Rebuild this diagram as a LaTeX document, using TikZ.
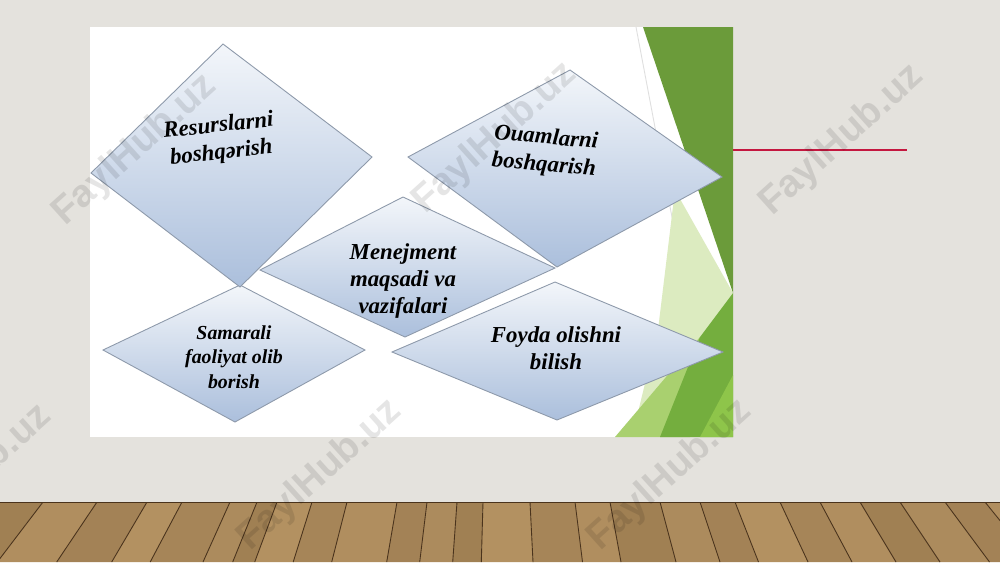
\documentclass[tikz,border=0pt]{standalone}
\usepackage{fontspec}
\setmainfont{Liberation Serif}
\setsansfont{Liberation Sans}
\usetikzlibrary{positioning}

\definecolor{wall}{HTML}{E4E2DD}
\definecolor{leafdk}{HTML}{6B9B3A}
\definecolor{leafmd}{HTML}{74AE3E}
\definecolor{leaflt}{HTML}{DCEBC0}
\definecolor{leafsf}{HTML}{A9D06F}
\definecolor{leafbr}{HTML}{8EC54A}
\definecolor{facetop}{HTML}{F3F6FA}
\definecolor{facebot}{HTML}{ABBFDC}
\definecolor{faceline}{HTML}{8D99AA}
\definecolor{redbar}{HTML}{C4173F}
\definecolor{woodlt}{HTML}{BC9A68}
\definecolor{wooddk}{HTML}{7E5F3A}
\definecolor{woodln}{HTML}{4A331C}

\tikzset{
  facet/.style={draw=faceline, line width=0.5pt, top color=facetop, bottom color=facebot},
  lbl/.style={font=\fontsize{13}{15.5}\selectfont\bfseries\itshape, align=center, inner sep=0pt},
  lblsm/.style={font=\fontsize{11.3}{13.8}\selectfont\bfseries\itshape},
  wmtext/.style={font=\sffamily\bfseries\fontsize{22}{22}\selectfont, text=black, text opacity=0.1, rotate=42}
}

\begin{document}
\begin{tikzpicture}[x=0.02cm, y=-0.02cm]

        \useasboundingbox (0,0) rectangle (1000,562);
        \fill[wall] (0,0) rectangle (1000,562);

        \begin{scope}
          \clip (0,502) rectangle (1000,562);
          \foreach \a/\b/\t in {-60/0/70, 0/43/55, 43/97/80, 97/147/60, 147/182/85, 182/230/65,
                                230/257/75, 257/277/55, 277/312/85, 312/347/65, 347/397/80,
                                397/427/60, 427/457/75, 457/483/55, 483/530/85, 530/575/65,
                                575/610/80, 610/660/55, 660/700/75, 700/735/60, 735/780/85,
                                780/820/65, 820/860/80, 860/900/55, 900/945/75, 945/985/60,
                                985/1040/80}
            \fill[woodlt!\t!wooddk] (\a,502) -- (\b,502) -- ({\b+(\b-500)*0.1},562) -- ({\a+(\a-500)*0.1},562) -- cycle;
          \foreach \a in {0,43,97,147,182,230,257,277,312,347,397,427,457,483,530,575,610,660,700,735,780,820,860,900,945,985}
            \draw[woodln, line width=0.5pt] (\a,502) -- ({\a+(\a-500)*0.1},562);
          \draw[woodln, line width=1.2pt] (0,502) -- (1000,502);
        \end{scope}

        \fill[white] (90,27) rectangle (733,437);

        \begin{scope}
          \clip (90,27) rectangle (733,437);
          \draw[gray!25, line width=0.5pt] (636,27) -- (700,365);
          \fill[leaflt] (675,190) -- (733,293) -- (700,337) -- (632,437) -- (658,330) -- cycle;
          \fill[leafdk] (643,27) -- (733,27) -- (733,293) -- cycle;
          \fill[leafsf] (700,337) -- (690,437) -- (615,437) -- cycle;
          \fill[leafmd] (733,293) -- (733,437) -- (660,437) -- (700,337) -- cycle;
          \fill[leafbr] (733,375) -- (733,437) -- (700,437) -- cycle;
        \end{scope}

        \begin{scope}
          \clip (90,27) rectangle (733,437);
          \path[facet] (240,285) -- (365,350) -- (235,422) -- (103,350) -- cycle;
          \path[facet] (555,282) -- (723,352) -- (557,420) -- (392,352) -- cycle;
          \path[facet] (403,197) -- (555,268) -- (405,337) -- (260,270) -- cycle;
          \path[facet] (223,44) -- (372,157) -- (240,287) -- (91,173) -- cycle;
          \path[facet] (570,70) -- (722,177) -- (557,267) -- (408,157) -- cycle;
        \end{scope}

        \begin{scope}[every node/.style={lbl}]
          \node[rotate=6]  (res)  at (220,140) {Resurslarni\\boshqərish};
          \node[rotate=-5] (odam) at (545,152) {Ouamlarni\\boshqarish};
          \node            (men)  at (403,281) {Menejment\\maqsadi va\\vazifalari};
          \node[lblsm]     (sam)  at (234,357) {Samarali\\faoliyat olib\\borish};
          \node            (foy)  at (556,348) {Foyda olishni\\bilish};
        \end{scope}

        \draw[redbar, line width=1.5pt] (733,150) -- (907,150);

        \begin{scope}[every node/.style={wmtext}]
          \node (wm1) at (135,150) {FaylHub.uz};
          \node (wm2) at (495,138) {FaylHub.uz};
          \node (wm3) at (842,140) {FaylHub.uz};
          \node (wm4) at (-30,480) {FaylHub.uz};
          \node (wm5) at (320,475) {FaylHub.uz};
          \node (wm6) at (670,475) {FaylHub.uz};
        \end{scope}

      \end{tikzpicture}
\end{document}
